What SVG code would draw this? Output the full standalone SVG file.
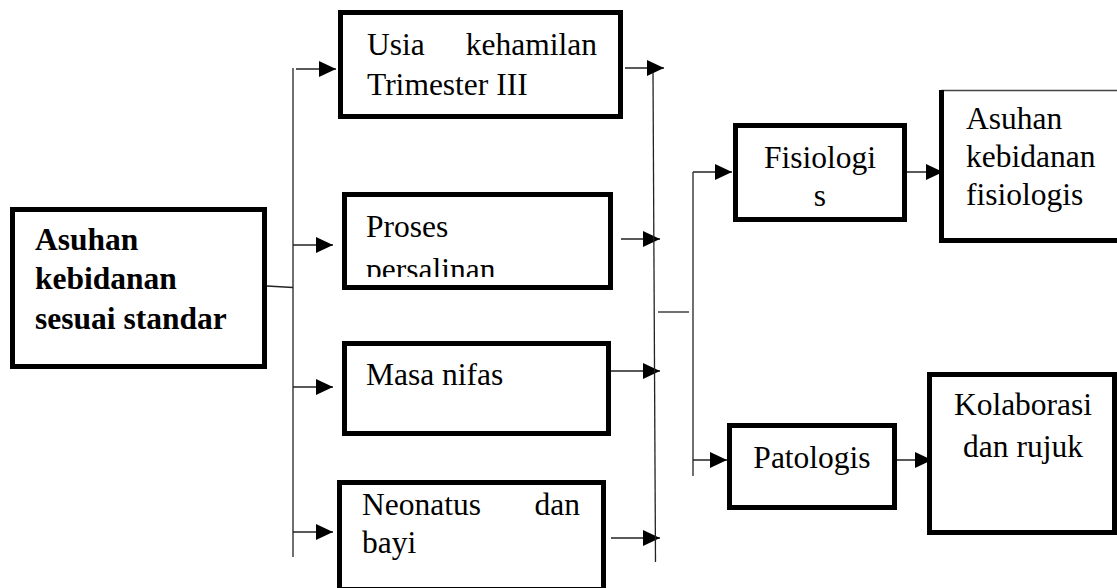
<svg xmlns="http://www.w3.org/2000/svg" width="1117" height="588" viewBox="0 0 1117 588">
<style>
.box{fill:#fff;stroke:#000;stroke-width:5}
.t{font-family:"Liberation Serif","Times New Roman",serif;font-size:31.5px;fill:#000}
.b{font-weight:bold}
.c{text-anchor:middle}
.e{text-anchor:end}
.ln{fill:none;stroke:#222;stroke-width:1.3}
</style>
<defs>
<marker id="ah" markerUnits="userSpaceOnUse" markerWidth="18" markerHeight="17" refX="17" refY="8" orient="auto">
<path d="M0,0 L17,8 L0,16 z" fill="#000"/>
</marker>
<clipPath id="clipProses"><rect x="340" y="190" width="280" height="87"/></clipPath>
</defs>
<rect width="1117" height="588" fill="#fff"/>

<g id="connectors">
<path class="ln" d="M267,286 L293,287.5"/>
<path class="ln" d="M293,68 V557"/>
<path class="ln" d="M296,69 H336" marker-end="url(#ah)"/>
<path class="ln" d="M293,245 H333" marker-end="url(#ah)"/>
<path class="ln" d="M293,387 H333" marker-end="url(#ah)"/>
<path class="ln" d="M293,532 H333" marker-end="url(#ah)"/>
<path class="ln" d="M625,68 H664" marker-end="url(#ah)"/>
<path class="ln" d="M621,239 H660" marker-end="url(#ah)"/>
<path class="ln" d="M611,371 H660" marker-end="url(#ah)"/>
<path class="ln" d="M611,538 H660" marker-end="url(#ah)"/>
<path class="ln" d="M653,73 L655.5,562"/>
<path class="ln" d="M658,312 H689"/>
<path class="ln" d="M693,172 V476"/>
<path class="ln" d="M693,172 H732" marker-end="url(#ah)"/>
<path class="ln" d="M693,460 H727" marker-end="url(#ah)"/>
<path class="ln" d="M907,172 H943" marker-end="url(#ah)"/>
<path class="ln" d="M897,460 H932" marker-end="url(#ah)"/>
</g>

<g id="node-asuhan-standar">
<rect class="box" x="12.5" y="209.5" width="252" height="157"/>
<text class="t b" x="35" y="250">Asuhan</text>
<text class="t b" x="35" y="289">kebidanan</text>
<text class="t b" x="35" y="329">sesuai standar</text>
</g>

<g id="node-usia">
<rect class="box" x="340.5" y="12.5" width="280" height="104"/>
<text class="t" y="55"><tspan x="367">Usia</tspan> <tspan x="597" text-anchor="end">kehamilan</tspan></text>
<text class="t" x="367" y="95">Trimester III</text>
</g>

<g id="node-proses">
<rect class="box" x="344.5" y="194.5" width="266" height="93"/>
<g clip-path="url(#clipProses)">
<text class="t" x="366" y="237">Proses</text>
<text class="t" x="366" y="280">persalinan</text>
</g>
</g>

<g id="node-masa">
<rect class="box" x="344.5" y="343.5" width="264" height="90"/>
<text class="t" x="366" y="385">Masa nifas</text>
</g>

<g id="node-neonatus">
<rect class="box" x="339.5" y="482.5" width="264" height="107"/>
<text class="t" y="515"><tspan x="362">Neonatus</tspan> <tspan x="580" text-anchor="end">dan</tspan></text>
<text class="t" x="362" y="553">bayi</text>
</g>

<g id="node-fisiologis">
<rect class="box" x="735.5" y="125.5" width="169" height="94"/>
<text class="t c" x="820" y="168">Fisiologi</text>
<text class="t c" x="820" y="206">s</text>
</g>

<g id="node-asuhan-fisiologis">
<rect x="941.5" y="90.5" width="180" height="150" fill="#fff"/>
<path d="M941.5,90.5 H1117" fill="none" stroke="#444" stroke-width="1.5"/>
<path d="M941.5,90 V240.5 H1120" fill="none" stroke="#000" stroke-width="5"/>
<text class="t" x="966" y="129">Asuhan</text>
<text class="t" x="966" y="167">kebidanan</text>
<text class="t" x="966" y="205">fisiologis</text>
</g>

<g id="node-patologis">
<rect class="box" x="729.5" y="425.5" width="165" height="82"/>
<text class="t c" x="812" y="468">Patologis</text>
</g>

<g id="node-kolaborasi">
<rect class="box" x="929.5" y="374.5" width="185" height="158"/>
<text class="t c" x="1023" y="415">Kolaborasi</text>
<text class="t c" x="1023" y="457">dan rujuk</text>
</g>
</svg>
